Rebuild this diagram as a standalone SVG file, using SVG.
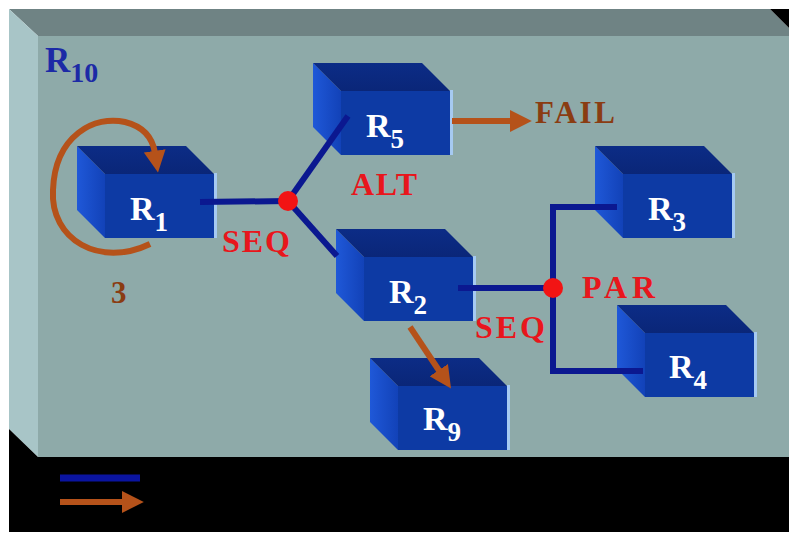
<svg xmlns="http://www.w3.org/2000/svg" xmlns:xlink="http://www.w3.org/1999/xlink" width="789" height="534" viewBox="0 0 789 534">
<style>
.lbl{fill:#ffffff;font-family:"Liberation Serif",serif;font-weight:bold;font-size:34px}
.sub{font-size:27px}
.red{fill:#e8161c;font-family:"Liberation Serif",serif;font-weight:bold;font-size:32px}
.brown{fill:#8a3c12;font-family:"Liberation Serif",serif;font-weight:bold;font-size:31px}
.wire{fill:none;stroke:#0b1890;stroke-width:6}
.orange{fill:none;stroke:#b5521a;stroke-width:6}
.dot{fill:#f21414}
</style>
<defs>
<linearGradient id="gLeft" x1="0" y1="0" x2="1" y2="0">
<stop offset="0" stop-color="#1f58d8"/>
<stop offset="1" stop-color="#1242b8"/>
</linearGradient>
<linearGradient id="gTop" x1="0" y1="0" x2="0" y2="1">
<stop offset="0" stop-color="#0c2c86"/>
<stop offset="1" stop-color="#0a2678"/>
</linearGradient>
<g id="box">
<polygon points="0,0 28,28 28,92 0,64" fill="url(#gLeft)"/>
<polygon points="0,0 109,0 137,28 28,28" fill="url(#gTop)"/>
<rect x="28" y="28" width="109" height="64" fill="#0d3aa4"/>
<rect x="137" y="27" width="3" height="65" fill="#a6caf2"/>
</g>
<marker id="ah" viewBox="0 0 10 10" refX="1" refY="5" markerWidth="22" markerHeight="22" markerUnits="userSpaceOnUse" orient="auto">
<path d="M0,0 L10,5 L0,10 z" fill="#b5521a"/>
</marker>
</defs>
<rect width="789" height="534" fill="#ffffff"/>
<g id="slab">
<polygon points="9,9 770,9 789,28 789,36 38,36" fill="#6f8384"/>
<polygon points="770,9 789,9 789,28" fill="#000000"/>
<polygon points="9,9 38,36 38,457 9,429" fill="#a8c5c7"/>
<rect x="38" y="36" width="751" height="421" fill="#8eaaa9"/>
<polygon points="9,429 38,457 789,457 789,532 9,532" fill="#000000"/>
<text x="45" y="72" font-family="'Liberation Serif',serif" font-weight="bold" font-size="35" fill="#1c2aa6">R<tspan font-size="28" dy="10">10</tspan></text>
</g>
<g id="R1" transform="translate(77,146)"><use xlink:href="#box"/><text class="lbl" x="53" y="74">R<tspan class="sub" dy="11">1</tspan></text></g>
<g id="R5" transform="translate(313,63)"><use xlink:href="#box"/><text class="lbl" x="53" y="74">R<tspan class="sub" dy="11">5</tspan></text></g>
<g id="R3" transform="translate(595,146)"><use xlink:href="#box"/><text class="lbl" x="53" y="74">R<tspan class="sub" dy="11">3</tspan></text></g>
<g id="R2" transform="translate(336,229)"><use xlink:href="#box"/><text class="lbl" x="53" y="74">R<tspan class="sub" dy="11">2</tspan></text></g>
<g id="R4" transform="translate(617,305)"><use xlink:href="#box"/><text class="lbl" x="52" y="73">R<tspan class="sub" dy="11">4</tspan></text></g>
<g id="R9" transform="translate(370,358)"><use xlink:href="#box"/><text class="lbl" x="53" y="72">R<tspan class="sub" dy="11">9</tspan></text></g>
<g id="connectors">
<path class="wire" d="M200,202 L288,201"/>
<path class="wire" d="M288,201 L348,116"/>
<path class="wire" d="M288,201 L337,256"/>
<path class="wire" d="M458,288 L553,288"/>
<path class="wire" d="M617,207 H553 V371 H643"/>
<circle class="dot" cx="288" cy="201" r="10"/>
<circle class="dot" cx="553" cy="288" r="10"/>
<path class="orange" d="M452,121 L512,121" marker-end="url(#ah)"/>
<path class="orange" d="M410,327 L440,372" stroke-width="5" marker-end="url(#ah)"/>
<path class="orange" d="M150,244 C100,268 50,240 53,190 C55,135 95,115 125,122 C145,127 153,140 155,153" marker-end="url(#ah)"/>
<text class="red" x="222" y="252" textLength="68" lengthAdjust="spacing">SEQ</text>
<text class="red" x="351" y="195" textLength="66" lengthAdjust="spacing">ALT</text>
<text class="red" x="475" y="338" textLength="70" lengthAdjust="spacing">SEQ</text>
<text class="red" x="582" y="298" textLength="73" lengthAdjust="spacing">PAR</text>
<text class="brown" x="535" y="123" textLength="80" lengthAdjust="spacing">FAIL</text>
<text class="brown" x="111" y="303" font-size="28" fill="#7d4a22">3</text>
</g>
<g id="legend">
<path d="M60,478 L140,478" stroke="#0a14a0" stroke-width="7"/>
<path class="orange" d="M60,502 L124,502" stroke-width="7" marker-end="url(#ah)"/>
</g>
</svg>
